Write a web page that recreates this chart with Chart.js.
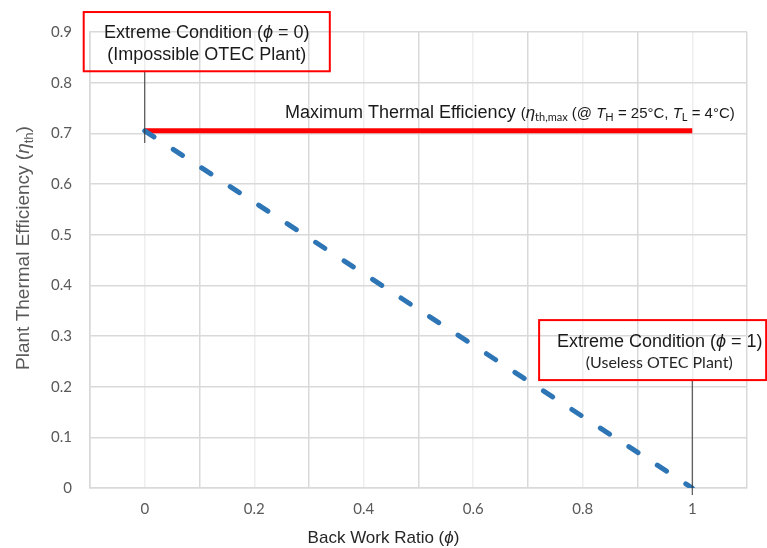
<!DOCTYPE html>
<html><head><meta charset="utf-8">
<script src="https://cdn.jsdelivr.net/npm/chart.js@4"></script>
<style>html,body{margin:0;padding:0;background:#fff}#wrap{width:767px;height:548px;position:relative}</style>
</head><body><div id="wrap"><canvas id="c" width="767" height="548"></canvas></div>
<script>
// ---- data ----
const backWorkRatio = [0, 1];
const maxThermalEfficiency = [0.705, 0.705];
const plantThermalEfficiency = [0.705, 0];
const leaderZeroX = [0, 0];
const leaderZeroY = [0.681, 0.823];
const leaderOneX = [1, 1];
const leaderOneY = [-0.014, 0.213];
const xTickValues = [0, 0.2, 0.4, 0.6, 0.8, 1];
const xTickLabels = ['0', '0.2', '0.4', '0.6', '0.8', '1'];
const yTickValues = [0, 0.1, 0.2, 0.3, 0.4, 0.5, 0.6, 0.7, 0.8, 0.9];
const yTickLabels = ['0', '0.1', '0.2', '0.3', '0.4', '0.5', '0.6', '0.7', '0.8', '0.9'];

const pts = (xs, ys) => xs.map((x, i) => ({x: x, y: ys[i]}));
const SANS = '"Liberation Sans", Arial, sans-serif';
const TICKF = 'Lato, "Open Sans", sans-serif';

function runsWidth(ctx, runs) {
  let w = 0;
  for (const r of runs) { ctx.font = r.f; w += ctx.measureText(r.t).width; }
  return w;
}
function drawRuns(ctx, x, y, runs, align) {
  if (align === 'center') x -= runsWidth(ctx, runs) / 2;
  ctx.textAlign = 'left';
  ctx.textBaseline = 'alphabetic';
  for (const r of runs) {
    ctx.font = r.f;
    ctx.fillText(r.t, x, y + (r.dy || 0));
    x += ctx.measureText(r.t).width;
  }
}

const notesPlugin = {
  id: 'notes',
  afterDraw(chart) {
    const ctx = chart.ctx;
    const xs = chart.scales.x, ys = chart.scales.y;
    const X = v => xs.getPixelForValue(v), Y = v => ys.getPixelForValue(v);
    ctx.save();
    // boxes
    ctx.strokeStyle = '#ff0000';
    ctx.lineWidth = 2;
    const boxes = [[-0.1115, 0.9394, 0.338, 0.8225], [0.7203, 0.3314, 1.135, 0.213]];
    for (const b of boxes) {
      ctx.strokeRect(X(b[0]), Y(b[1]), X(b[2]) - X(b[0]), Y(b[3]) - Y(b[1]));
    }
    ctx.fillStyle = '#1a1a1a';
    const f18 = '18px ' + SANS, i18 = 'italic 18px ' + SANS;
    drawRuns(ctx, X(0.1133), Y(0.8876), [
      {t: 'Extreme Condition (', f: f18}, {t: 'ϕ', f: i18}, {t: ' = 0)', f: f18}], 'center');
    drawRuns(ctx, X(0.1133), Y(0.844), [{t: '(Impossible OTEC Plant)', f: f18}], 'center');
    drawRuns(ctx, X(0.9406), Y(0.278), [
      {t: 'Extreme Condition (', f: f18}, {t: 'ϕ', f: i18}, {t: ' = 1)', f: f18}], 'center');
    ctx.fillStyle = '#262626';
    drawRuns(ctx, X(0.9397), Y(0.2367), [{t: '(Useless OTEC Plant)', f: '16px ' + TICKF}], 'center');

    // max efficiency label
    ctx.fillStyle = '#1a1a1a';
    const f15 = '15px ' + SANS, i15 = 'italic 15px ' + SANS, s11 = '11px ' + TICKF;
    drawRuns(ctx, X(0.256), Y(0.7298), [
      {t: 'Maximum Thermal Efficiency ', f: f18},
      {t: '(', f: f15}, {t: 'η', f: 'italic 17px ' + SANS}, {t: 'th,max', f: s11, dy: 3},
      {t: ' (@ ', f: f15}, {t: 'T', f: i15}, {t: 'H', f: s11, dy: 3},
      {t: ' = 25°C, ', f: f15}, {t: 'T', f: i15}, {t: 'L', f: s11, dy: 3},
      {t: ' = 4°C)', f: f15}
    ], 'left');

    // axis titles
    ctx.fillStyle = '#262626';
    drawRuns(ctx, chart.width / 2, 543, [
      {t: 'Back Work Ratio (', f: '17px ' + SANS}, {t: 'ϕ', f: 'italic 17px ' + SANS}, {t: ')', f: '17px ' + SANS}], 'center');
    ctx.fillStyle = '#595959';
    ctx.translate(29, 248);
    ctx.rotate(-Math.PI / 2);
    drawRuns(ctx, 0, 0, [
      {t: 'Plant Thermal Efficiency (', f: '19px ' + SANS}, {t: 'η', f: 'italic 19px ' + SANS},
      {t: 'th', f: '13px ' + SANS, dy: 4}, {t: ')', f: '19px ' + SANS}], 'center');
    ctx.restore();
  }
};

new Chart(document.getElementById('c'), {
  type: 'scatter',
  data: {
    datasets: [
      {label: 'Actual', data: pts(backWorkRatio, plantThermalEfficiency), showLine: true,
       borderColor: '#2e75b6', borderWidth: 5, borderDash: [11, 23], borderCapStyle: 'round',
       pointRadius: 0, order: 1},
      {label: 'Max', data: pts(backWorkRatio, maxThermalEfficiency), showLine: true,
       borderColor: '#ff0000', borderWidth: 5, pointRadius: 0, order: 2},
      {label: 'Lead0', data: pts(leaderZeroX, leaderZeroY), showLine: true,
       borderColor: '#333333', borderWidth: 1, pointRadius: 0, clip: false, order: 0},
      {label: 'Lead1', data: pts(leaderOneX, leaderOneY), showLine: true,
       borderColor: '#333333', borderWidth: 1, pointRadius: 0, clip: false, order: 0}
    ]
  },
  options: {
    responsive: false, animation: false, devicePixelRatio: 1,
    layout: {padding: {left: 0, top: 32, right: 20, bottom: 0}},
    plugins: {legend: {display: false}, tooltip: {enabled: false}},
    scales: {
      x: {
        type: 'linear', min: -0.1, max: 1.1,
        afterFit: s => { s.height = 60; },
        afterBuildTicks: s => { s.ticks = []; for (let k = -1; k <= 11; k++) s.ticks.push({value: k / 10}); },
        ticks: {
          padding: 12, color: '#595959', font: {family: TICKF, size: 15}, maxRotation: 0, autoSkip: false,
          callback: v => { const i = xTickValues.findIndex(t => Math.abs(t - v) < 1e-6); return i >= 0 ? xTickLabels[i] : ''; }
        },
        grid: {
          drawTicks: false,
          color: c => { const k = Math.round(c.tick.value * 10); return (Math.abs(k) % 2 === 1) ? '#d9d9d9' : '#eeeeee'; },
          lineWidth: 1.5
        },
        border: {color: '#d9d9d9', width: 1.5}
      },
      y: {
        type: 'linear', min: 0, max: 0.9,
        afterFit: s => { s.width = 90; },
        afterBuildTicks: s => { s.ticks = yTickValues.map(v => ({value: v})); },
        ticks: {
          padding: 18, color: '#595959', font: {family: TICKF, size: 15},
          callback: v => { const i = yTickValues.findIndex(t => Math.abs(t - v) < 1e-6); return i >= 0 ? yTickLabels[i] : ''; }
        },
        grid: {drawTicks: false, color: '#d9d9d9', lineWidth: 1.5},
        border: {color: '#d9d9d9', width: 1.5}
      }
    }
  },
  plugins: [notesPlugin]
});
</script></body></html>
